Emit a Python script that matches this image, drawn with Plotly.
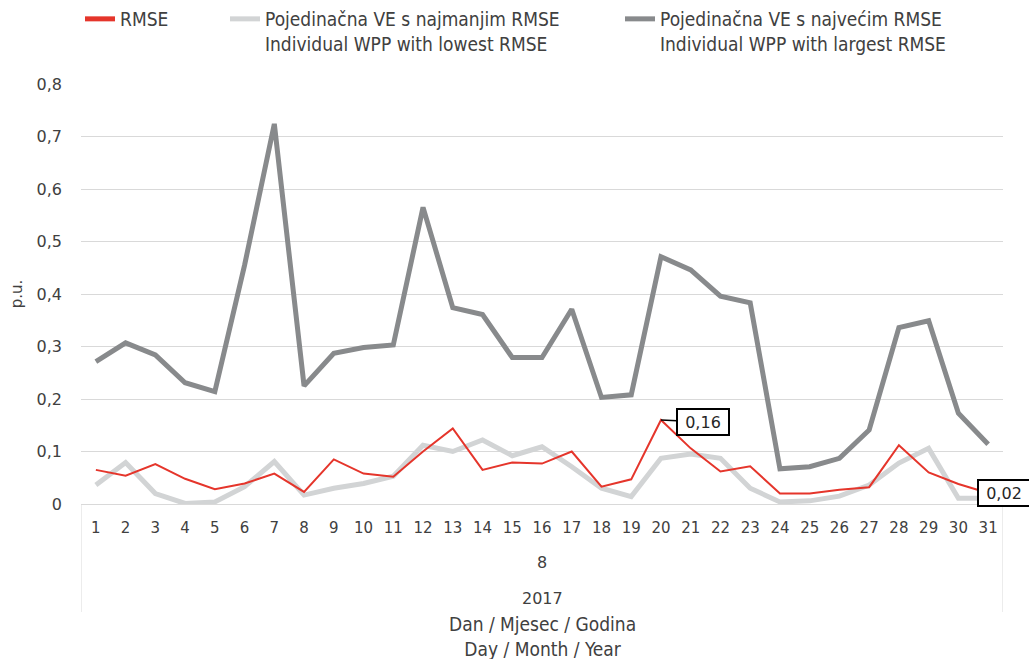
import plotly.graph_objects as go

days = list(range(1, 32))
day_labels = [str(d) for d in days]

rmse = [0.065, 0.054, 0.076, 0.048, 0.028, 0.039, 0.058, 0.023, 0.085, 0.058,
        0.052, 0.100, 0.144, 0.065, 0.079, 0.077, 0.100, 0.033, 0.047, 0.160,
        0.106, 0.062, 0.072, 0.020, 0.020, 0.027, 0.032, 0.112, 0.060, 0.038,
        0.021]
lowest = [0.036, 0.079, 0.020, 0.001, 0.004, 0.033, 0.081, 0.017, 0.030, 0.039,
          0.053, 0.112, 0.100, 0.122, 0.092, 0.109, 0.071, 0.030, 0.014, 0.087,
          0.095, 0.087, 0.030, 0.004, 0.006, 0.015, 0.036, 0.078, 0.106, 0.011,
          0.011]
largest = [0.271, 0.307, 0.284, 0.231, 0.214, 0.455, 0.724, 0.225, 0.287, 0.298,
           0.303, 0.565, 0.374, 0.361, 0.279, 0.279, 0.371, 0.203, 0.208, 0.471,
           0.446, 0.396, 0.383, 0.067, 0.071, 0.087, 0.141, 0.336, 0.349, 0.173,
           0.114]

y_ticks = [0, 0.1, 0.2, 0.3, 0.4, 0.5, 0.6, 0.7, 0.8]
y_tick_labels = ["0", "0,1", "0,2", "0,3", "0,4", "0,5", "0,6", "0,7", "0,8"]

name_rmse = "RMSE"
name_low = "Pojedinačna VE s najmanjim RMSE<br>Individual WPP with lowest RMSE"
name_high = "Pojedinačna VE s najvećim RMSE<br>Individual WPP with largest RMSE"

RED = "#E5352B"
LIGHT = "#D2D4D5"
DARK = "#888A8C"
GRID = "#D9D9D9"
TXT = "#404040"
LEG_FONT = "Liberation Sans Narrow, DejaVu Sans Condensed, Arial Narrow, sans-serif"
TICK_FONT = "DejaVu Sans, Verdana, sans-serif"

fig = go.Figure()
fig.add_trace(go.Scatter(x=days, y=largest, mode="lines", name=name_high,
                         line=dict(color=DARK, width=5), legend="legend3"))
fig.add_trace(go.Scatter(x=days, y=lowest, mode="lines", name=name_low,
                         line=dict(color=LIGHT, width=5), legend="legend2"))
fig.add_trace(go.Scatter(x=days, y=rmse, mode="lines", name=name_rmse,
                         line=dict(color=RED, width=2), legend="legend"))

L, R, T, B = 81, 26, 84, 155
W, H = 1029, 659
pw = W - L - R
ph = H - T - B

def px_x(px):
    return (px - L) / pw

def px_y(py):
    return (H - B - py) / ph

leg_common = dict(orientation="h", bgcolor="rgba(0,0,0,0)",
                  font=dict(family=LEG_FONT, size=19, color=TXT),
                  xanchor="left", yanchor="top", valign="top",
                  itemsizing="constant")

fig.update_layout(
    width=W, height=H,
    margin=dict(l=L, r=R, t=T, b=B, autoexpand=False),
    plot_bgcolor="white", paper_bgcolor="white",
    showlegend=True,
    legend=dict(x=px_x(80), y=px_y(0), **leg_common),
    legend2=dict(x=px_x(225), y=px_y(0), **leg_common),
    legend3=dict(x=px_x(620), y=px_y(0), **leg_common),
    xaxis=dict(range=[0.5, 31.5], tickmode="array", tickvals=days,
               ticktext=day_labels, showgrid=False, zeroline=False,
               showline=False, ticks="", ticklabelstandoff=13,
               tickfont=dict(family=TICK_FONT, size=15, color=TXT)),
    yaxis=dict(range=[0, 0.8], tickmode="array", tickvals=y_ticks,
               ticktext=y_tick_labels, showgrid=True, gridcolor=GRID,
               gridwidth=1, zeroline=True, zerolinecolor=GRID, zerolinewidth=1,
               showline=False, ticks="", ticklabelstandoff=18,
               tickfont=dict(family=TICK_FONT, size=16, color=TXT),
               title=dict(text="p.u.", standoff=10,
                          font=dict(family=TICK_FONT, size=15, color=TXT))),
)

# category separators (vertical lines of multi-level axis)
for xv in (0.5, 31.5):
    fig.add_shape(type="line", xref="x", yref="paper", x0=xv, x1=xv,
                  y0=0, y1=px_y(612), line=dict(color=GRID, width=1))

fig.add_annotation(text="8", xref="paper", yref="paper", x=0.5, y=px_y(562),
                   yanchor="middle", xanchor="center", showarrow=False,
                   font=dict(family=TICK_FONT, size=16, color=TXT))
fig.add_annotation(text="2017", xref="paper", yref="paper", x=0.5, y=px_y(598),
                   yanchor="middle", xanchor="center", showarrow=False,
                   font=dict(family=TICK_FONT, size=16, color=TXT))
fig.add_annotation(text="Dan / Mjesec / Godina<br>Day / Month / Year",
                   xref="paper", yref="paper", x=0.5, y=px_y(636),
                   yanchor="middle", xanchor="center", showarrow=False,
                   font=dict(family=LEG_FONT, size=19, color=TXT))

# data labels
fig.add_annotation(x=20, y=rmse[19], text="0,16", showarrow=True,
                   arrowhead=0, arrowwidth=1.5, arrowcolor="black",
                   ax=42, ay=2, bgcolor="white", bordercolor="black",
                   borderwidth=2, borderpad=2, width=46, height=20,
                   font=dict(family=TICK_FONT, size=16, color="#262626"))
fig.add_annotation(x=31, y=rmse[30], text="0,02", showarrow=False,
                   xanchor="left", xshift=-11, yshift=0,
                   bgcolor="white", bordercolor="black",
                   borderwidth=2, borderpad=2, width=46, height=20,
                   font=dict(family=TICK_FONT, size=16, color="#262626"))

fig.write_html("out.html", config={"displayModeBar": False},
               post_script="document.body.style.margin='0px';")
